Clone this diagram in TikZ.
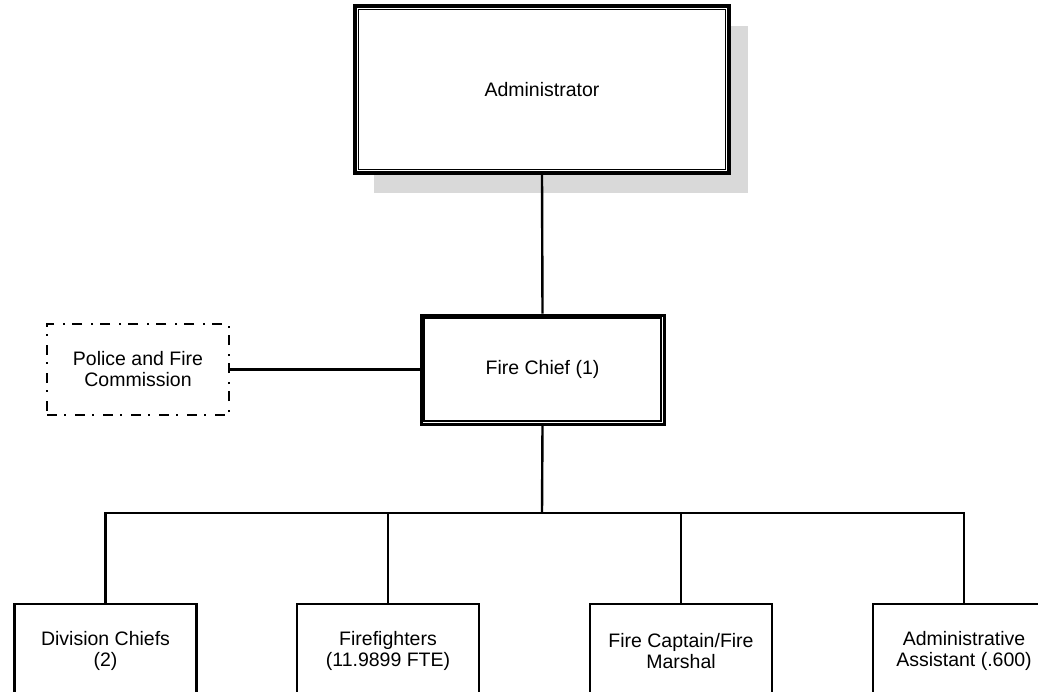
\documentclass[tikz,border=0pt]{standalone}
\usepackage{fontspec}
\setmainfont{Liberation Sans}
\usetikzlibrary{shadows}
\begin{document}
\begin{tikzpicture}[x=1pt,y=-1pt,
  lbl/.style={align=center, inner sep=0pt, font=\fontsize{19.5}{21}\selectfont},
  box/.style={lbl, draw, line width=2.4pt, fill=white},
  unitbox/.style={box, minimum width=182pt, minimum height=94pt},
  headbox/.style={box, line width=3pt},
  innerline/.style={line width=1.4pt},
  dashdot/.style={draw, line width=1.6pt, dash pattern=on 10pt off 7pt on 2pt off 9pt},
  link/.style={line width=2.4pt},
  shade/.style={drop shadow={shadow xshift=19pt, shadow yshift=-20pt, fill=gray!30, opacity=1}}]
\clip (0,0) rectangle (1038,691);
\fill[white] (0,0) rectangle (1038,691);

% top of the chart
\node[headbox, shade, line width=3.5pt, minimum width=374pt, minimum height=167pt] (adm) at (542,89.5) {Administrator};
\draw[innerline] ([shift={(5,5)}]adm.north west) rectangle ([shift={(-5,-5)}]adm.south east);

\node[headbox, minimum width=243pt, minimum height=109pt] (chief) at (542.5,369.5) {Fire Chief (1)};
\draw[innerline] ([shift={(4.5,4.5)}]chief.north west) rectangle ([shift={(-4.5,-4.5)}]chief.south east);

\node[lbl, dashdot, minimum width=182pt, minimum height=91pt] (pfc) at (138,369.5) {Police and Fire\\Commission};

% units
\node[unitbox, anchor=north] (dc) at (105.5,603) {Division Chiefs\\(2)};
\node[unitbox, anchor=north] (ff) at (388,603) {Firefighters\\(11.9899 FTE)};
\node[unitbox, anchor=north] (fc) at (681,603) {Fire Captain/Fire\\Marshal};
\node[unitbox, anchor=north] (aa) at (964,603) {Administrative\\Assistant (.600)};

% reporting lines
\coordinate (bus) at (542,513);
\draw[link] (adm.south) -- (chief.north);
\draw[link] (pfc.east) -- (chief.west);
\draw[link] (chief.south) -- (bus);
\draw[link] (dc.north) -- (dc.north |- bus) -- (aa.north |- bus) -- (aa.north);
\draw[link] (ff.north) -- (ff.north |- bus);
\draw[link] (fc.north) -- (fc.north |- bus);
\end{tikzpicture}
\end{document}
